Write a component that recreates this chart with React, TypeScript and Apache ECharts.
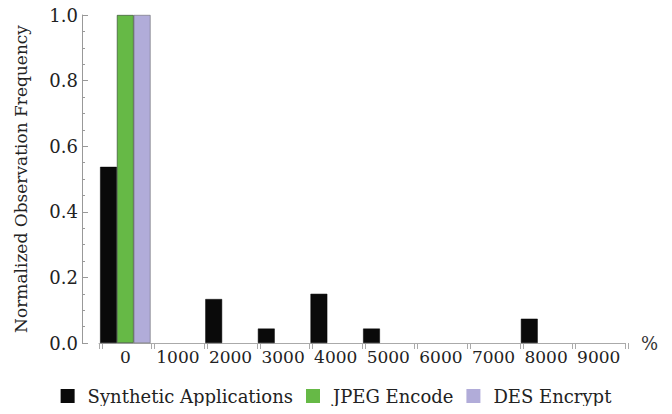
import React, { useEffect, useRef } from "react";
import * as echarts from "echarts";

const categories = ["0", "1000", "2000", "3000", "4000", "5000", "6000", "7000", "8000", "9000"];
const synthetic = [0.537, null, 0.134, 0.044, 0.15, 0.044, null, null, 0.074, null];
const jpeg = [1.0, null, null, null, null, null, null, null, null, null];
const des = [1.0, null, null, null, null, null, null, null, null, null];
const yTicks = [0, 0.2, 0.4, 0.6, 0.8, 1.0];

const FONT = "DejaVu Serif";

export default function App() {
  const ref = useRef<HTMLDivElement>(null);
  useEffect(() => {
    if (!ref.current) return;
    const chart = echarts.init(ref.current, undefined, { renderer: "svg" });
    const gridLeft = 99;
    const gridRight = 672 - 625;
    chart.setOption({
      animation: false,
      textStyle: { fontFamily: FONT },
      grid: [
        { left: gridLeft, right: gridRight, top: 15, bottom: 71, outerBoundsMode: "none" },
        { left: gridLeft + 3, right: gridRight - 3, top: 15, bottom: 71, outerBoundsMode: "none" },
      ],
      legend: {
        bottom: 4,
        left: "center",
        itemWidth: 14,
        itemHeight: 14,
        itemGap: 13,
        icon: "rect",
        itemStyle: { borderWidth: 0 },
        textStyle: { fontFamily: FONT, fontSize: 18, color: "#222", padding: [0, 0, 0, 8] },
        data: ["Synthetic Applications", "JPEG Encode", "DES Encrypt"],
      },
      xAxis: [
        {
          type: "category",
          gridIndex: 0,
          data: categories,
          name: "%",
          nameLocation: "end",
          nameGap: 16,
          nameTextStyle: { fontFamily: FONT, fontSize: 18, color: "#333", verticalAlign: "middle" },
          axisLine: { show: true, lineStyle: { color: "#aaa", width: 1 } },
          axisTick: { show: true, length: 6, lineStyle: { color: "#aaa" } },
          axisLabel: { fontFamily: FONT, fontSize: 17, color: "#222", margin: 5, interval: 0 },
          splitLine: { show: false },
        },
        {
          type: "category",
          gridIndex: 1,
          data: categories,
          axisLine: { show: false },
          axisTick: { show: true, length: 6, lineStyle: { color: "#aaa" } },
          axisLabel: { show: false },
          splitLine: { show: false },
        },
      ],
      yAxis: [
        {
          type: "value",
          gridIndex: 0,
          min: 0,
          max: 1,
          interval: 0.2,
          offset: 17,
          name: "Normalized Observation Frequency",
          nameLocation: "middle",
          nameGap: 53,
          nameTextStyle: { fontFamily: FONT, fontSize: 17, color: "#222" },
          axisLine: { show: true, lineStyle: { color: "#999", width: 1 } },
          axisTick: { show: true, inside: true, length: 6, lineStyle: { color: "#999" } },
          minorTick: { show: true, splitNumber: 4, length: 3, lineStyle: { color: "#999" } },
          axisLabel: {
            fontFamily: FONT,
            fontSize: 18,
            color: "#222",
            margin: 4,
            formatter: (v: number) => (yTicks.some((t) => Math.abs(t - v) < 1e-9) ? v.toFixed(1) : ""),
          },
          splitLine: { show: false },
        },
        {
          type: "value",
          gridIndex: 1,
          min: 0,
          max: 1,
          show: false,
        },
      ],
      series: [
        {
          name: "Synthetic Applications",
          type: "bar",
          xAxisIndex: 0,
          yAxisIndex: 0,
          data: synthetic,
          barWidth: 16.8,
          barGap: "0%",
          itemStyle: { color: "#0a0a0a", borderColor: "#000", borderWidth: 0.5 },
        },
        {
          name: "JPEG Encode",
          type: "bar",
          xAxisIndex: 0,
          yAxisIndex: 0,
          data: jpeg,
          barWidth: 16.8,
          barGap: "0%",
          itemStyle: { color: "#66b946", borderColor: "#2a3a2a", borderWidth: 0.6 },
        },
        {
          name: "DES Encrypt",
          type: "bar",
          xAxisIndex: 0,
          yAxisIndex: 0,
          data: des,
          barWidth: 16.8,
          barGap: "0%",
          itemStyle: { color: "#b1acd9", borderColor: "#555", borderWidth: 0.5 },
        },
      ],
    });
    return () => chart.dispose();
  }, []);
  return <div ref={ref} style={{ width: 672, height: 414, margin: -8 }} />;
}
